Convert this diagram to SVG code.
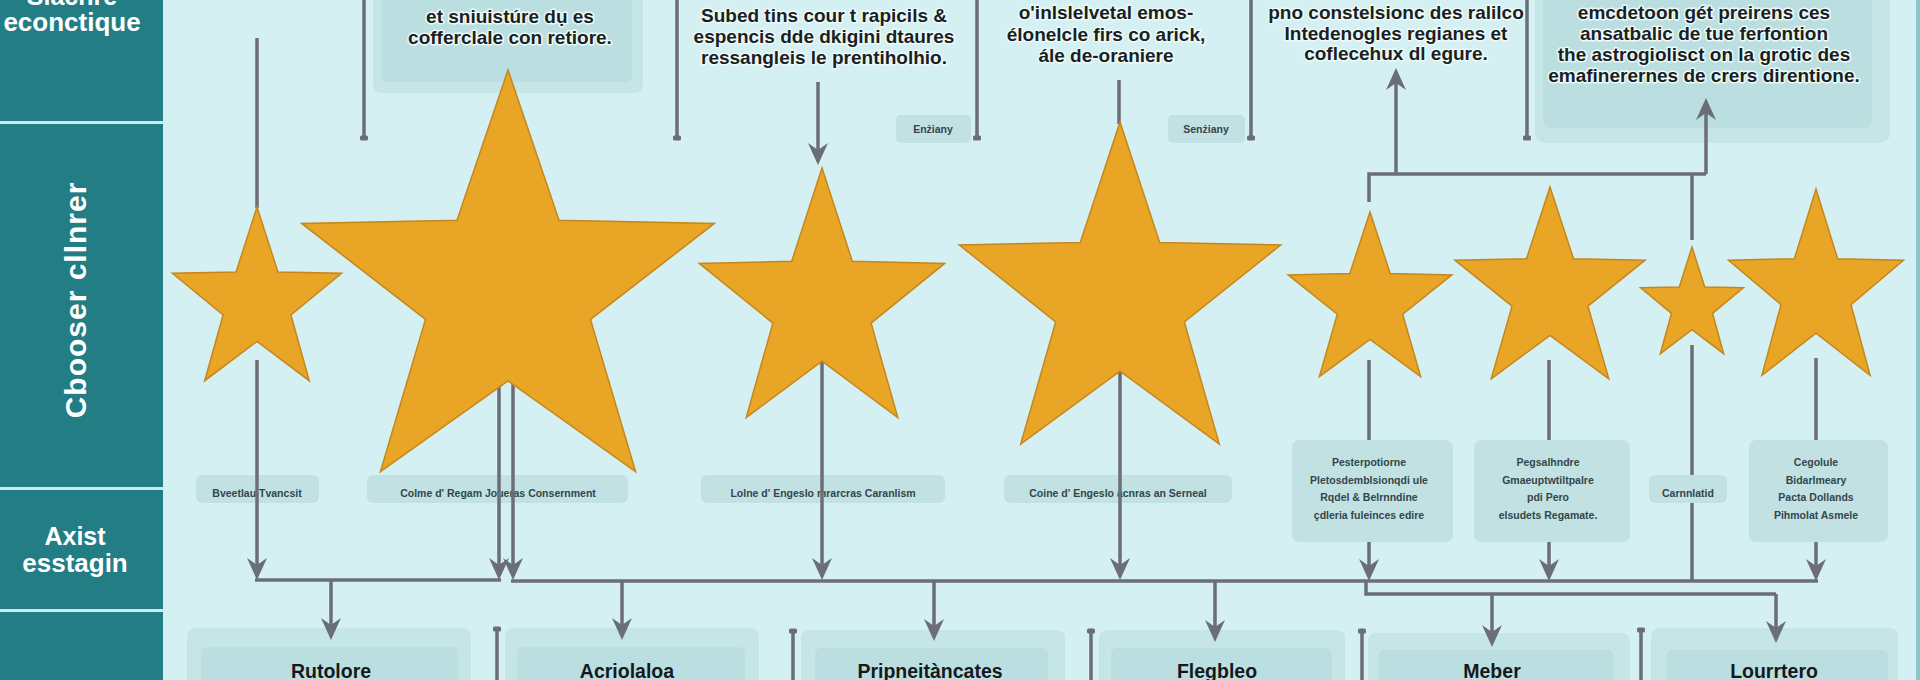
<svg xmlns="http://www.w3.org/2000/svg" width="1920" height="680" viewBox="0 0 1920 680">
<defs>
<style>
.bg{fill:#d5f0f2}
.panel{fill:#237d85}
.pdiv{fill:#c9e9eb}
.ptxt{font-family:"Liberation Sans",Arial,sans-serif;font-weight:700;fill:#ffffff;text-anchor:middle}
.outer{fill:#c6e5e7}
.inner{fill:#bbdfe1}
.lbl{fill:#c1e1e3}
.t{font-family:"Liberation Sans",Arial,sans-serif;font-weight:700;font-size:19px;fill:#1a1f22;text-anchor:middle;stroke:#eefafa;stroke-width:3;stroke-linejoin:round;paint-order:stroke fill}
.small{font-family:"Liberation Sans",Arial,sans-serif;font-weight:700;font-size:10.5px;fill:#33464c;text-anchor:middle}
.bt{font-family:"Liberation Sans",Arial,sans-serif;font-weight:700;font-size:19.5px;fill:#15191c;text-anchor:middle}
.star{fill:#e9a526;stroke:#c4871c;stroke-width:1.5;stroke-linejoin:miter}
.c{fill:none;stroke:#6b6e76;stroke-width:3.5}
.a{marker-end:url(#ah)}
.cap{marker-end:url(#cap)}
.caps{marker-start:url(#cap)}
</style>
<marker id="ah" markerUnits="userSpaceOnUse" markerWidth="28" markerHeight="28" viewBox="-26 -14 28 28" refX="-4" refY="0" orient="auto">
<path d="M0,0 L-22,-10 L-15,0 L-22,10 Z" fill="#6b6e76"/>
</marker>
<marker id="cap" markerUnits="userSpaceOnUse" markerWidth="12" markerHeight="12" viewBox="-6 -6 12 12" refX="0" refY="0" orient="auto">
<rect x="-2.5" y="-4" width="5" height="8" rx="1.5" fill="#6b6e76"/>
</marker>
</defs>

<rect class="bg" x="0" y="0" width="1920" height="680"/>
<rect x="1916" y="0" width="4" height="680" fill="#8cc6cb"/>

<g id="lanes">
<rect class="panel" x="0" y="0" width="163" height="680"/>
<rect class="pdiv" x="0" y="121" width="163" height="3"/>
<rect class="pdiv" x="0" y="487" width="163" height="3"/>
<rect class="pdiv" x="0" y="609" width="163" height="3"/>
<text class="ptxt" x="72" y="5" font-size="25">Slachre</text>
<text class="ptxt" x="72" y="31" font-size="26">econctique</text>
<text class="ptxt" transform="translate(86,300) rotate(-90)" font-size="30" letter-spacing="1">Cbooser cllnrer</text>
<text class="ptxt" x="75" y="545" font-size="25">Axist</text>
<text class="ptxt" x="75" y="572" font-size="26">esstagin</text>
</g>

<g id="top-box-a">
<rect class="outer" x="373" y="-10" width="270" height="103" rx="8"/>
<rect class="inner" x="382" y="-10" width="250" height="92" rx="6"/>
<text class="t" x="510" y="23">et sniuistúre dụ es</text>
<text class="t" x="510" y="44">cofferclale con retiore.</text>
</g>

<g id="top-text-b">
<text class="t" x="824" y="22">Subed tins cour t rapicils &amp;</text>
<text class="t" x="824" y="43">espencis dde dkigini dtaures</text>
<text class="t" x="824" y="64">ressangleis le prentiholhio.</text>
</g>

<g id="top-text-c">
<text class="t" x="1106" y="19">o'inlslelvetal emos-</text>
<text class="t" x="1106" y="41">élonelcle firs co arick,</text>
<text class="t" x="1106" y="62">ále de-oraniere</text>
</g>

<g id="top-text-d">
<text class="t" x="1396" y="19">pno constelsionc des ralilco</text>
<text class="t" x="1396" y="40">Intedenogles regianes et</text>
<text class="t" x="1396" y="60">coflecehux dl egure.</text>
</g>

<g id="top-box-e">
<rect class="outer" x="1535" y="-10" width="355" height="153" rx="10"/>
<rect class="inner" x="1543" y="-10" width="329" height="138" rx="8"/>
<text class="t" x="1704" y="19">emcdetoon gét preirens ces</text>
<text class="t" x="1704" y="40">ansatbalic de tue ferfontion</text>
<text class="t" x="1704" y="61">the astrogiolisct on la grotic des</text>
<text class="t" x="1704" y="82">emafinerernes de crers direntione.</text>
</g>

<g id="tag-1">
<rect class="lbl" x="896" y="115" width="75" height="28" rx="5"/>
<text class="small" x="933" y="133" font-size="9.5">Enżiany</text>
</g>
<g id="tag-2">
<rect class="lbl" x="1168" y="115" width="77" height="28" rx="5"/>
<text class="small" x="1206" y="133" font-size="9.5">Senżiany</text>
</g>

<g id="label-1">
<rect class="lbl" x="196" y="475" width="123" height="28" rx="6"/>
<text class="small" x="257" y="497">Bveetlau Tvancsit</text>
</g>
<g id="label-2">
<rect class="lbl" x="367" y="475" width="261" height="28" rx="6"/>
<text class="small" x="498" y="497">Colme d' Regam Joueras Consernment</text>
</g>
<g id="label-3">
<rect class="lbl" x="701" y="475" width="244" height="28" rx="6"/>
<text class="small" x="823" y="497">Lolne d' Engeslo mrarcras Caranlism</text>
</g>
<g id="label-4">
<rect class="lbl" x="1004" y="475" width="228" height="28" rx="6"/>
<text class="small" x="1118" y="497">Coine d' Engeslo acnras an Serneal</text>
</g>
<g id="label-5">
<rect class="lbl" x="1292" y="440" width="161" height="102" rx="7"/>
<text class="small" x="1369" y="466">Pesterpotiorne</text>
<text class="small" x="1369" y="484">Pletosdemblsionqdi ule</text>
<text class="small" x="1369" y="501">Rqdel &amp; Belrnndine</text>
<text class="small" x="1369" y="519">çdleria fuleinces edire</text>
</g>
<g id="label-6">
<rect class="lbl" x="1474" y="440" width="156" height="102" rx="7"/>
<text class="small" x="1548" y="466">Pegsalhndre</text>
<text class="small" x="1548" y="484">Gmaeuptwtiltpalre</text>
<text class="small" x="1548" y="501">pdi Pero</text>
<text class="small" x="1548" y="519">elsudets Regamate.</text>
</g>
<g id="label-7">
<rect class="lbl" x="1649" y="475" width="78" height="28" rx="6"/>
<text class="small" x="1688" y="497">Carnnlatid</text>
</g>
<g id="label-8">
<rect class="lbl" x="1749" y="440" width="139" height="102" rx="7"/>
<text class="small" x="1816" y="466">Cegolule</text>
<text class="small" x="1816" y="484">Bidarlmeary</text>
<text class="small" x="1816" y="501">Pacta Dollands</text>
<text class="small" x="1816" y="519">Pihmolat Asmele</text>
</g>

<g id="box-rutolore">
<rect class="outer" x="187" y="628" width="284" height="70" rx="8"/>
<rect class="inner" x="201" y="647" width="257" height="50" rx="6"/>
<text class="bt" x="331" y="678">Rutolore</text>
</g>
<g id="box-acriolaloa">
<rect class="outer" x="505" y="628" width="254" height="70" rx="8"/>
<rect class="inner" x="517" y="647" width="228" height="50" rx="6"/>
<text class="bt" x="627" y="678">Acriolaloa</text>
</g>
<g id="box-pripneitancates">
<rect class="outer" x="801" y="630" width="264" height="70" rx="8"/>
<rect class="inner" x="815" y="648" width="233" height="50" rx="6"/>
<text class="bt" x="930" y="678">Pripneitàncates</text>
</g>
<g id="box-flegbleo">
<rect class="outer" x="1099" y="630" width="246" height="70" rx="8"/>
<rect class="inner" x="1111" y="648" width="221" height="50" rx="6"/>
<text class="bt" x="1217" y="678">Flegbleo</text>
</g>
<g id="box-meber">
<rect class="outer" x="1368" y="633" width="262" height="70" rx="8"/>
<rect class="inner" x="1378" y="650" width="236" height="50" rx="6"/>
<text class="bt" x="1492" y="678">Meber</text>
</g>
<g id="box-lourrtero">
<rect class="outer" x="1651" y="628" width="247" height="70" rx="8"/>
<rect class="inner" x="1666" y="650" width="222" height="50" rx="6"/>
<text class="bt" x="1774" y="678">Lourrtero</text>
</g>

<g id="connectors">
<path class="c" d="M257,38 V208"/>
<path class="c cap" d="M364,0 V138"/>
<path class="c cap" d="M677,0 V138"/>
<path class="c a" d="M818,82 V161"/>
<path class="c cap" d="M977,0 V138"/>
<path class="c" d="M1119,80 V124"/>
<path class="c cap" d="M1251,0 V138"/>
<path class="c cap" d="M1527,0 V138"/>
<path class="c" d="M1369,202 V174 H1706"/>
<path class="c" d="M1692,240 V174"/>
<path class="c a" d="M1396,174 V72"/>
<path class="c a" d="M1706,174 V102"/>

<path class="c a" d="M257,360 V576"/>
<path class="c a" d="M499,380 V576"/>
<path class="c a" d="M513,380 V576"/>
<path class="c a" d="M822,362 V576"/>
<path class="c a" d="M1120,370 V576"/>
<path class="c" d="M1369,360 V440"/>
<path class="c a" d="M1369,542 V577"/>
<path class="c" d="M1549,360 V440"/>
<path class="c a" d="M1549,542 V577"/>
<path class="c" d="M1692,345 V475"/>
<path class="c" d="M1692,503 V581"/>
<path class="c" d="M1816,358 V440"/>
<path class="c a" d="M1816,542 V577"/>

<path class="c" d="M255,580 H501"/>
<path class="c" d="M511,581 H1818"/>
<path class="c" d="M1366,581 V594 H1776"/>

<path class="c a" d="M331,580 V636"/>
<path class="c a" d="M622,581 V636"/>
<path class="c a" d="M934,581 V637"/>
<path class="c a" d="M1215,581 V638"/>
<path class="c a" d="M1492,594 V643"/>
<path class="c a" d="M1776,594 V639"/>

<path class="c caps" d="M497,629 V680"/>
<path class="c caps" d="M793,631 V680"/>
<path class="c caps" d="M1091,631 V680"/>
<path class="c caps" d="M1362,631 V680"/>
<path class="c caps" d="M1641,630 V680"/>
</g>

<g id="star-1"><polygon class="star" points="257,207 277.9,271.9 341.6,273.3 290.9,314.9 309.3,380.7 257,341.4 204.7,380.7 223.1,314.9 172.4,273.3 236.1,271.9"/></g>
<g id="star-2"><polygon class="star" points="508,70 559,220.2 714.4,223.4 590.5,319.4 635.6,471.6 508,380.8 380.4,471.6 425.5,319.4 301.6,223.4 457,220.2"/></g>
<g id="star-3"><polygon class="star" points="822,168 852.3,261.3 944.7,263.4 871.1,323.1 897.8,417.6 822,361.2 746.2,417.6 772.9,323.1 699.3,263.4 791.7,261.3"/></g>
<g id="star-4"><polygon class="star" points="1120,122 1159.7,242.4 1280.7,245 1184.3,322 1219.3,444 1120,371.2 1020.7,444 1055.7,322 959.3,245 1080.3,242.4"/></g>
<g id="star-5"><polygon class="star" points="1370,212 1390.2,273.6 1451.8,274.9 1402.7,314.2 1420.6,376.6 1370,339.4 1319.4,376.6 1337.3,314.2 1288.2,274.9 1349.8,273.6"/></g>
<g id="star-6"><polygon class="star" points="1550,187 1573.5,258.7 1645.1,260.2 1588,306.1 1608.8,378.8 1550,335.4 1491.2,378.8 1512,306.1 1454.9,260.2 1526.5,258.7"/></g>
<g id="star-7"><polygon class="star" points="1692,247 1704.7,286.9 1743.4,287.8 1712.5,313.3 1723.7,353.7 1692,329.6 1660.3,353.7 1671.5,313.3 1640.6,287.8 1679.3,286.9"/></g>
<g id="star-8"><polygon class="star" points="1816,189 1837.6,258.7 1903.5,260.2 1851,304.7 1870.1,375.3 1816,333.2 1761.9,375.3 1781,304.7 1728.5,260.2 1794.4,258.7"/></g>
</svg>
